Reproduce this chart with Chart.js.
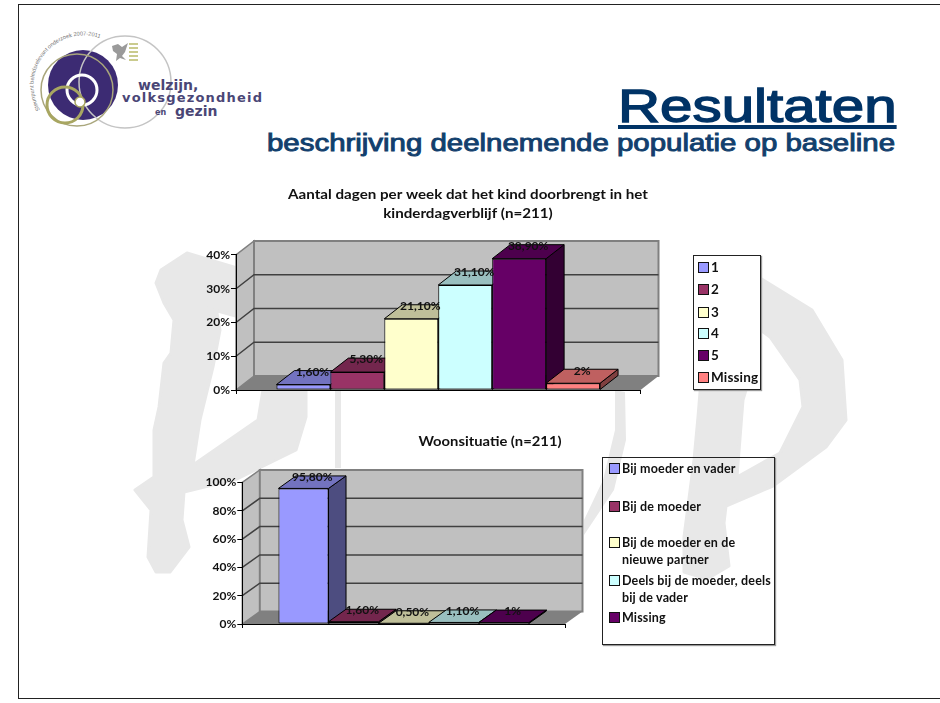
<!DOCTYPE html>
<html><head><meta charset="utf-8">
<script src="https://cdn.jsdelivr.net/npm/chart.js@4"></script>
<style>
html,body{margin:0;padding:0;background:#fff;overflow:hidden}
#page{position:relative;width:940px;height:703px;overflow:hidden}
#frame{position:absolute;left:18px;top:4px;width:960px;height:693px;border:1px solid #222}
canvas{position:absolute}
.h{position:absolute;white-space:nowrap;font-family:"Liberation Sans",Arial,sans-serif;color:#003366;transform-origin:0 0}
.legend{position:absolute;border:1px solid #222;box-shadow:1px 1px 1px #999;box-sizing:border-box;font:bold 12.5px Lato,sans-serif;color:#111}
.sw{position:absolute;width:9px;height:9px;border:1px solid #111}
.lt{position:absolute;line-height:17px;white-space:pre-line;letter-spacing:.15px}
</style></head><body>
<div id="page">
<svg id="wm" width="940" height="703" style="position:absolute;left:0;top:0">
<g fill="#e8e8e8" stroke="#e8e8e8" stroke-width="3" stroke-linejoin="round">
<path fill-rule="evenodd" d="M187 253L161 270L156 283L164 303L174 320L171 353L164 363L159 407L154 430L154 477L135 490L151 510L148 557L156 572L170 572L189 547L182 520L184 492L237 479L296 450L306 417L306 390L300 320L237 268ZM207 308L217 313L220 330L213 367L200 420L193 465L258 420L263 390L250 320Z"/>
<path fill-rule="evenodd" d="M713 266L760 278L812 310L842 360L846 420L826 447L773 486L726 506L724 523L729 566L707 579L684 572L684 537L694 460L698 417L701 380L706 300ZM747 320L770 337L800 380L803 407L780 453L737 477L743 400L757 353Z"/>
<path stroke-width="0" d="M335 388L341 388L341 468L335 468ZM615 390L625 392L626 440L614 490L584 535L584 520L603 480L615 430Z"/>
</g>
<!-- logo -->
<circle cx="83" cy="85" r="35" fill="#3c2b73"/>
<circle cx="125" cy="82" r="46" fill="none" stroke="#c4c4c4" stroke-width="1.5"/>
<circle cx="77" cy="90" r="36" fill="none" stroke="#a9a67c" stroke-width="1.5"/>
<circle cx="82" cy="90" r="15" fill="none" stroke="#fff" stroke-width="3"/>
<circle cx="65" cy="105" r="18" fill="none" stroke="#a8a661" stroke-width="3"/>
<circle cx="80" cy="102" r="5" fill="#fff" stroke="#a8a661" stroke-width="1.5"/>
<path fill="#9a9a9a" d="M112 46L118 44L122 47L128 43L125 52L122 56L126 60L120 58L116 61L117 54L113 51Z"/>
<path stroke="#b9bb6a" stroke-width="1.5" d="M129 44H138M129 48H138M129 52H138M129 56H138M129 60H138"/>
<path id="arc" fill="none" d="M40 110A50 50 0 0 1 110 43"/>
<text font-family="Liberation Sans" font-size="5.6" fill="#777"><textPath href="#arc">Steunpunt beleidsrelevant onderzoek 2007-2011</textPath></text>
<g font-family="DejaVu Sans" font-weight="bold" fill="#4a4676">
<text x="138" y="90" font-size="14">welzijn,</text>
<text x="122" y="102" font-size="13" textLength="140">volksgezondheid</text>
<text x="155" y="115" font-size="8">en</text>
<text x="175" y="116" font-size="14">gezin</text>
</g>
</svg>
<div id="frame"></div>
<div class="h" id="t1" data-w="279" style="left:618px;top:78px;font-size:47px;-webkit-text-stroke:1.4px #003366;text-decoration:underline;text-decoration-thickness:4px;text-underline-offset:3px">Resultaten</div>
<div class="h" id="t2" data-w="628" style="left:267px;top:130px;font-size:23px;-webkit-text-stroke:.9px #123f6d;color:#123f6d">beschrijving deelnemende populatie op baseline</div>
<canvas id="c1" width="600" height="220" style="left:168px;top:180px"></canvas>
<canvas id="c2" width="600" height="204" style="left:190px;top:430px"></canvas>
<div class="legend" id="l1" style="left:693px;top:255px;width:68px;height:135px;background:#fff;font-size:13.5px"></div>
<div class="legend" id="l2" style="left:602px;top:457px;width:173px;height:188px"></div>
</div>
<script>
// Chart 1
const dayTitle = ["Aantal dagen per week dat het kind doorbrengt in het", "kinderdagverblijf (n=211)"];
const dayCategories = ["1", "2", "3", "4", "5", "Missing"];
const dayValues = [1.6, 5.3, 21.1, 31.1, 38.9, 2];
const dayValueLabels = ["1,60%", "5,30%", "21,10%", "31,10%", "38,90%", "2%"];
// Chart 2
const homeTitle = "Woonsituatie (n=211)";
const homeCategories = ["Bij moeder en vader", "Bij de moeder", "Bij de moeder en de\nnieuwe partner", "Deels bij de moeder, deels\nbij de vader", "Missing"];
const homeValues = [95.8, 1.6, 0.5, 1.1, 1];
const homeValueLabels = ["95,80%", "1,60%", "0,50%", "1,10%", "1%"];
const palette = ["#9999FF", "#993366", "#FFFFCC", "#CCFFFF", "#660066", "#FF8080"];

const FONT = "Lato, sans-serif";
function shade(hex, f){
  const n = parseInt(hex.slice(1), 16);
  return "rgb(" + [(n>>16)&255, (n>>8)&255, n&255].map(v => Math.round(v*f)).join(",") + ")";
}
function poly(ctx, pts, fill, stroke, lw){
  ctx.beginPath();
  pts.forEach((p,i) => i ? ctx.lineTo(p[0],p[1]) : ctx.moveTo(p[0],p[1]));
  ctx.closePath();
  if (fill){ ctx.fillStyle = fill; ctx.fill(); }
  if (stroke){ ctx.strokeStyle = stroke; ctx.lineWidth = lw||1; ctx.stroke(); }
}
function makeChart(id, o){
  const dx = o.dx, dy = o.dy;
  const plugin = {
    id: "threeD",
    beforeDraw(chart){
      const ctx = chart.ctx, a = chart.chartArea, y = chart.scales.y;
      // the reference's text is stretched sideways: stretch the title block about its centre
      const tb = chart.titleBlock;
      if (!tb._stretched){
        tb._stretched = true;
        const draw = tb.draw.bind(tb), cx = chart.width/2;
        tb.draw = () => { ctx.save(); ctx.translate(cx,0); ctx.scale(o.titleStretch,1); ctx.translate(-cx,0); draw(); ctx.restore(); };
      }
      ctx.save();
      poly(ctx, [[a.left,a.top],[a.left+dx,a.top+dy],[a.left+dx,a.bottom+dy],[a.left,a.bottom]], "#c0c0c0", "#808080", 1.5);
      poly(ctx, [[a.left+dx,a.top+dy],[a.right+dx,a.top+dy],[a.right+dx,a.bottom+dy],[a.left+dx,a.bottom+dy]], "#c0c0c0", "#808080", 2);
      poly(ctx, [[a.left,a.bottom],[a.right,a.bottom],[a.right+dx,a.bottom+dy],[a.left+dx,a.bottom+dy]], "#808080");
      y.ticks.forEach(t => {
        if (t.value === y.min || t.value === y.max) return;
        const py = y.getPixelForValue(t.value);
        ctx.beginPath();
        ctx.moveTo(a.left, py); ctx.lineTo(a.left+dx, py+dy); ctx.lineTo(a.right+dx, py+dy);
        ctx.strokeStyle = "#404040"; ctx.lineWidth = 1.5; ctx.stroke();
      });
      ctx.restore();
    },
    beforeDatasetDraw(){ return false; },
    afterDatasetsDraw(chart){
      const ctx = chart.ctx;
      ctx.save();
      o.values.forEach((v,i) => {
        const el = chart.getDatasetMeta(i).data[0], col = palette[i];
        const l = el.x - el.width/2, r = el.x + el.width/2, t = el.y, b = el.base;
        poly(ctx, [[r,t],[r+dx,t+dy],[r+dx,b+dy],[r,b]], shade(col,0.5), "#000", 1);
        poly(ctx, [[l,t],[l+dx,t+dy],[r+dx,t+dy],[r,t]], shade(col,0.75), "#000", 1);
        el.draw(ctx);
      });
      ctx.font = o.labelFont; ctx.fillStyle = "#111"; ctx.textAlign = "center"; ctx.textBaseline = "middle";
      o.values.forEach((v,i) => {
        const el = chart.getDatasetMeta(i).data[0];
        ctx.fillText(o.valueLabels[i], el.x + dx/2, el.y + dy*0.9);
      });
      ctx.restore();
    }
  };
  return new Chart(document.getElementById(id), {
    type: "bar",
    data: {
      labels: [""],
      datasets: o.values.map((v,i) => ({
        label: o.categories[i], data: [v],
        backgroundColor: palette[i], borderColor: "#000", borderWidth: 1, borderSkipped: false
      }))
    },
    options: {
      responsive: false, animation: false,
      categoryPercentage: o.catPct, barPercentage: 1,
      plugins: {
        legend: { display: false }, tooltip: { enabled: false },
        title: { display: true, text: o.title, color: "#111",
          font: { family: FONT, weight: "bold", size: 13, lineHeight: 1.46 },
          padding: o.titlePad }
      },
      scales: {
        x: { offset: true, afterFit: s => { s.height = 10; },
          ticks: { display: false },
          grid: { drawOnChartArea: false, color: "#000", tickLength: 4, offset: true },
          border: { color: "#000" } },
        y: { min: 0, max: o.max, afterFit: s => { s.width = o.axisW; },
          ticks: { stepSize: o.step, color: "#111", padding: 1, font: { family: FONT, weight: "bold", size: 12 },
            callback: v => v + "%" },
          grid: { drawOnChartArea: false, color: "#000", tickLength: 5 },
          border: { color: "#000" } },
        // empty side axis: keeps the plot narrow while the title stays centred on the whole canvas
        side: { type: "linear", position: "right", display: true, afterFit: s => { s.width = o.sideW; },
          ticks: { display: false }, grid: { display: false }, border: { display: false } }
      }
    },
    plugins: [plugin]
  });
}
makeChart("c1", { title: dayTitle, categories: dayCategories, values: dayValues, valueLabels: dayValueLabels,
  max: 40, step: 10, dx: 18, dy: -14, catPct: 0.8, sideW: 127.5, axisW: 68, titleStretch: 1.165,
  titlePad: { top: 5, bottom: 32 }, labelFont: "bold 12px " + FONT });
makeChart("c2", { title: homeTitle, categories: homeCategories, values: homeValues, valueLabels: homeValueLabels,
  max: 100, step: 20, dx: 17.5, dy: -12.5, catPct: 0.776, sideW: 225, axisW: 52.3, titleStretch: 1.137,
  titlePad: { top: 2, bottom: 31.5 }, labelFont: "bold 12px " + FONT });

function legend(id, cats, tops, swX, txtX, txtW){
  const box = document.getElementById(id);
  cats.forEach((c,i) => {
    const s = document.createElement("div"); s.className = "sw";
    s.style.left = swX+"px"; s.style.top = (tops[i]+3)+"px"; s.style.background = palette[i];
    const t = document.createElement("div"); t.className = "lt"; t.textContent = c;
    t.style.left = txtX+"px"; t.style.top = tops[i]+"px"; t.style.width = txtW+"px";
    box.append(s,t);
  });
}
legend("l1", dayCategories, [3,25,48,69,91,113], 4, 17, 50);
legend("l2", homeCategories, [2,40,76,114,151], 6, 19, 152);
document.querySelectorAll(".h").forEach(e => {
  e.style.transform = "scaleX(" + (+e.dataset.w / e.offsetWidth) + ")";
});
</script>
</body></html>
